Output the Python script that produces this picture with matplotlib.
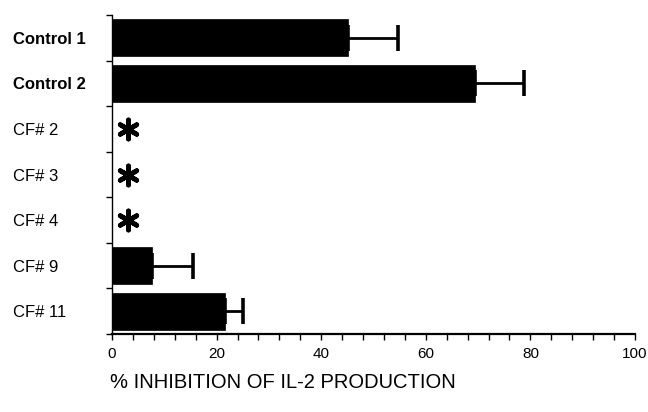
import matplotlib
matplotlib.use("Agg")
import matplotlib.pyplot as plt
import numpy as np
from matplotlib.ticker import MultipleLocator, FixedLocator

plt.rcParams['font.family'] = ['Liberation Sans', 'DejaVu Sans']

categories = ["Control 1", "Control 2", "CF# 2", "CF# 3", "CF# 4", "CF# 9", "CF# 11"]
values = [45.2, 69.4, 0, 0, 0, 7.7, 21.6]
errors = [9.5, 9.4, 0, 0, 0, 7.8, 3.5]
not_detected = [False, False, True, True, True, False, False]
asterisk_x = 3.0
xticks = [0, 20, 40, 60, 80, 100]
xlabel = "% INHIBITION OF IL-2 PRODUCTION"

fig = plt.figure(figsize=(6.48, 4.12), dpi=100)
ax = fig.add_axes([112/648, 1-334/412, (635-112)/648, (334-15)/412])

y = np.arange(len(categories))
for i, (v, e) in enumerate(zip(values, errors)):
    if v > 0:
        ax.barh(y[i], v, height=0.81, color='black', edgecolor='black', linewidth=0.5, zorder=2)
        ax.errorbar(v, y[i], xerr=[[0], [e]], fmt='none', ecolor='black',
                    elinewidth=2.0, capsize=9.5, capthick=2.6, zorder=1)

ast_y = [y[i] for i in range(len(categories)) if not_detected[i]]
ax.scatter([asterisk_x] * len(ast_y), ast_y, marker=(6, 2, 0), s=190,
           color='black', linewidths=3.4, zorder=3)

ax.set_xlim(0, 100)
ax.set_ylim(len(categories) - 0.5, -0.5)

for s in ['top', 'right']:
    ax.spines[s].set_visible(False)
ax.spines['left'].set_linewidth(1.0)
ax.spines['bottom'].set_linewidth(1.6)

ax.set_xticks(xticks)
ax.set_xticklabels([str(t) for t in xticks], fontsize=11)
ax.xaxis.set_minor_locator(MultipleLocator(4))
ax.tick_params(axis='x', which='both', direction='out', length=4, width=1.0, pad=5)

ax.set_yticks(y)
ax.set_yticklabels(categories, fontsize=12)
for lbl, c in zip(ax.get_yticklabels(), categories):
    lbl.set_horizontalalignment('left')
    if c.startswith('Control'):
        lbl.set_fontweight('bold')
ax.tick_params(axis='y', which='major', length=0, pad=71)
ax.yaxis.set_minor_locator(FixedLocator(np.arange(-0.5, len(categories) - 0.4, 1.0)))
ax.tick_params(axis='y', which='minor', direction='out', length=4, width=1.0)

fig.text(110/648, 1-383/412, xlabel, fontsize=14.5, ha='left', va='center')

fig.savefig("out.png", dpi=100)
